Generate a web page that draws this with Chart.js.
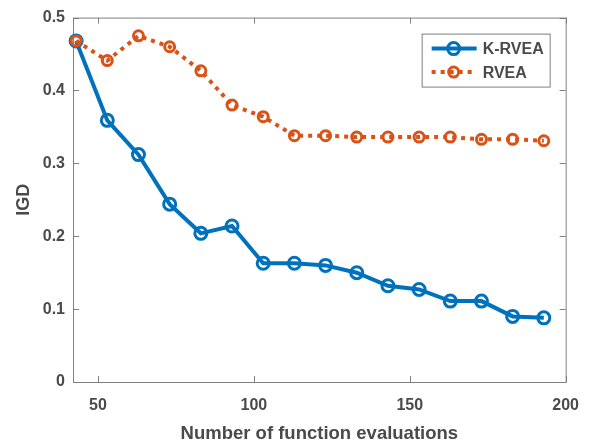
<!DOCTYPE html>
<html>
<head>
<meta charset="utf-8">
<script src="https://cdn.jsdelivr.net/npm/chart.js@4.4.0/dist/chart.umd.min.js"></script>
<style>
  html, body { margin: 0; padding: 0; background: #ffffff; }
  #wrap { width: 593px; height: 445px; }
</style>
</head>
<body>
<div id="wrap"><canvas id="grafico" width="593" height="445"></canvas></div>
<script>
// Datos
const evaluaciones = [43, 53, 63, 73, 83, 93, 103, 113, 123, 133, 143, 153, 163, 173, 183, 193];
const igdKRVEA = [0.468, 0.359, 0.312, 0.244, 0.204, 0.214, 0.163, 0.163, 0.160, 0.150, 0.132, 0.127, 0.111, 0.111, 0.090, 0.088];
const igdRVEA = [0.468, 0.441, 0.475, 0.460, 0.427, 0.380, 0.364, 0.338, 0.338, 0.336, 0.336, 0.336, 0.336, 0.333, 0.333, 0.331];
const ticksX = [50, 100, 150, 200];
const ticksY = [0, 0.1, 0.2, 0.3, 0.4, 0.5];

const colores = {
    azul: '#0072BD',
    naranja: '#D95319',
    texto: '#4a4a4a',
    ejes: '#7f7f7f'
};
const fuente = '"Liberation Sans", Arial, Helvetica, sans-serif';

// Caja y marcas hacia adentro estilo MATLAB
const cajaEjes = {
    id: 'cajaEjes',
    beforeDatasetsDraw(chart) {
        const { ctx, chartArea: a, scales } = chart;
        ctx.save();
        ctx.strokeStyle = colores.ejes;
        ctx.lineWidth = 1;
        ctx.strokeRect(a.left + 0.5, a.top + 0.5, a.right - a.left, a.bottom - a.top);
        const largo = 6;
        ctx.beginPath();
        ticksX.forEach(v => {
            const x = Math.round(scales.x.getPixelForValue(v)) + 0.5;
            ctx.moveTo(x, a.bottom); ctx.lineTo(x, a.bottom - largo);
            ctx.moveTo(x, a.top); ctx.lineTo(x, a.top + largo);
        });
        ticksY.forEach(v => {
            const y = Math.round(scales.y.getPixelForValue(v)) + 0.5;
            ctx.moveTo(a.left, y); ctx.lineTo(a.left + largo, y);
            ctx.moveTo(a.right, y); ctx.lineTo(a.right - largo, y);
        });
        ctx.stroke();
        ctx.restore();
    }
};

// Leyenda con linea y marcador
const leyenda = {
    id: 'leyenda',
    afterDraw(chart) {
        const { ctx, chartArea: a } = chart;
        const x0 = a.right - 144, y0 = a.top + 16, w = 128, h = 53;
        ctx.save();
        ctx.fillStyle = '#ffffff';
        ctx.fillRect(x0, y0, w, h);
        ctx.strokeStyle = colores.ejes;
        ctx.lineWidth = 1;
        ctx.strokeRect(x0 + 0.5, y0 + 0.5, w, h);
        const orden = [0, 1];
        orden.forEach((i, fila) => {
            const ds = chart.data.datasets[i];
            const yc = y0 + 15 + fila * 23.5;
            ctx.beginPath();
            ctx.setLineDash(ds.borderDash || []);
            ctx.strokeStyle = ds.borderColor;
            ctx.lineWidth = ds.borderWidth;
            ctx.moveTo(x0 + 10, yc);
            ctx.lineTo(x0 + 55, yc);
            ctx.stroke();
            ctx.setLineDash([]);
            ctx.beginPath();
            ctx.lineWidth = ds.pointBorderWidth;
            ctx.arc(x0 + 32, yc, ds.pointRadius, 0, Math.PI * 2);
            ctx.stroke();
            ctx.fillStyle = colores.texto;
            ctx.font = 'bold 16px ' + fuente;
            ctx.textBaseline = 'middle';
            ctx.fillText(ds.label, x0 + 61, yc + 1);
        });
        ctx.restore();
    }
};

new Chart(document.getElementById('grafico'), {
    type: 'line',
    data: {
        datasets: [{
            label: 'K-RVEA',
            data: evaluaciones.map((x, i) => ({ x, y: igdKRVEA[i] })),
            borderColor: colores.azul,
            borderWidth: 4,
            pointRadius: 6,
            pointBorderWidth: 3,
            pointBackgroundColor: 'rgba(0,0,0,0)',
            pointBorderColor: colores.azul,
            clip: false,
            order: 1
        }, {
            label: 'RVEA',
            data: evaluaciones.map((x, i) => ({ x, y: igdRVEA[i] })),
            borderColor: colores.naranja,
            borderWidth: 4,
            borderDash: [4, 5],
            pointRadius: 5,
            pointBorderWidth: 3,
            pointBackgroundColor: 'rgba(0,0,0,0)',
            pointBorderColor: colores.naranja,
            clip: false,
            order: 0
        }]
    },
    options: {
        responsive: false,
        animation: false,
        layout: { padding: { left: 13, right: 27, top: 15, bottom: 0 } },
        plugins: { legend: { display: false }, tooltip: { enabled: false } },
        scales: {
            x: {
                type: 'linear',
                min: 42,
                max: 200,
                afterBuildTicks: s => { s.ticks = ticksX.map(v => ({ value: v })); },
                afterFit: s => { s.height = 63; },
                grid: { display: false, drawTicks: false },
                border: { display: false },
                ticks: {
                    color: colores.texto,
                    font: { family: fuente, size: 16, weight: 'bold' },
                    padding: 14,
                    maxRotation: 0
                },
                title: {
                    display: true,
                    text: 'Number of function evaluations',
                    color: colores.texto,
                    font: { family: fuente, size: 18.5, weight: 'bold' },
                    padding: { top: 3, bottom: 0 }
                }
            },
            y: {
                type: 'linear',
                min: 0,
                max: 0.5,
                afterBuildTicks: s => { s.ticks = ticksY.map(v => ({ value: v })); },
                afterFit: s => { s.width = 60; },
                grid: { display: false, drawTicks: false },
                border: { display: false },
                ticks: {
                    color: colores.texto,
                    font: { family: fuente, size: 16, weight: 'bold' },
                    padding: 8,
                    callback: v => String(Math.round(v * 10) / 10)
                },
                title: {
                    display: true,
                    text: 'IGD',
                    color: colores.texto,
                    font: { family: fuente, size: 18, weight: 'bold' },
                    padding: { top: 0, bottom: 4 }
                }
            }
        }
    },
    plugins: [cajaEjes, leyenda]
});
</script>
</body>
</html>
